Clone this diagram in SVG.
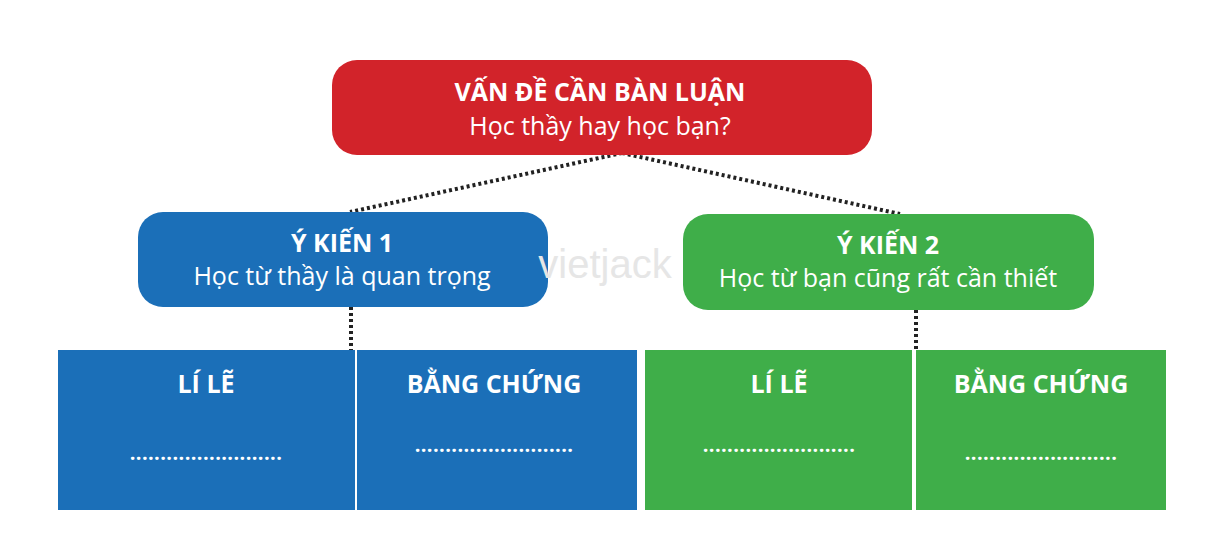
<svg xmlns="http://www.w3.org/2000/svg" width="1209" height="540" viewBox="0 0 1209 540">
<style>
text{font-family:"Open Sans","Noto Sans",sans-serif;fill:#fff;text-anchor:middle}
.b{font-weight:bold;font-size:25px}
.n{font-size:25px}
.d{font-size:20px;font-weight:bold;letter-spacing:0.4px}
.c{stroke:#222;stroke-width:4;stroke-dasharray:3 3;fill:none}
.blue{fill:#1b6fb8}.green{fill:#3fae49}
</style>
<rect width="1209" height="540" fill="#fff"/>
<g id="connectors">
<line class="c" x1="622" y1="153" x2="350" y2="212"/>
<line class="c" x1="622" y1="153" x2="900" y2="214"/>
<line class="c" x1="351" y1="307" x2="351" y2="350"/>
<line class="c" x1="916" y1="310" x2="916" y2="350"/>
</g>
<g id="issue"><rect x="332" y="60" width="540" height="95" rx="25" fill="#d2232a"/>
<text class="b" x="600" y="101">VẤN ĐỀ CẦN BÀN LUẬN</text><text class="n" x="600" y="135">Học thầy hay học bạn?</text></g>
<g id="y1"><rect class="blue" x="138" y="212" width="410" height="95" rx="25"/>
<text class="b" x="342" y="252">Ý KIẾN 1</text><text class="n" x="342" y="285">Học từ thầy là quan trọng</text></g>
<g id="y2"><rect class="green" x="683" y="214" width="411" height="96" rx="25"/>
<text class="b" x="888" y="254">Ý KIẾN 2</text><text class="n" x="888" y="287">Học từ bạn cũng rất cần thiết</text></g>
<text x="605" y="278" style="font-size:40px;fill:#e6e6e6;font-family:'Liberation Sans',sans-serif">vietjack</text>
<g id="b1"><rect class="blue" x="58" y="350" width="297" height="160"/><text class="b" x="206" y="393">LÍ LẼ</text><text class="d" x="206" y="460">.........................</text></g>
<g id="b2"><rect class="blue" x="357" y="350" width="280" height="160"/><text class="b" x="494" y="393">BẰNG CHỨNG</text><text class="d" x="494" y="452">..........................</text></g>
<g id="b3"><rect class="green" x="645" y="350" width="267" height="160"/><text class="b" x="779" y="393">LÍ LẼ</text><text class="d" x="779" y="452">.........................</text></g>
<g id="b4"><rect class="green" x="916" y="350" width="250" height="160"/><text class="b" x="1041" y="393">BẰNG CHỨNG</text><text class="d" x="1041" y="460">.........................</text></g>
</svg>
